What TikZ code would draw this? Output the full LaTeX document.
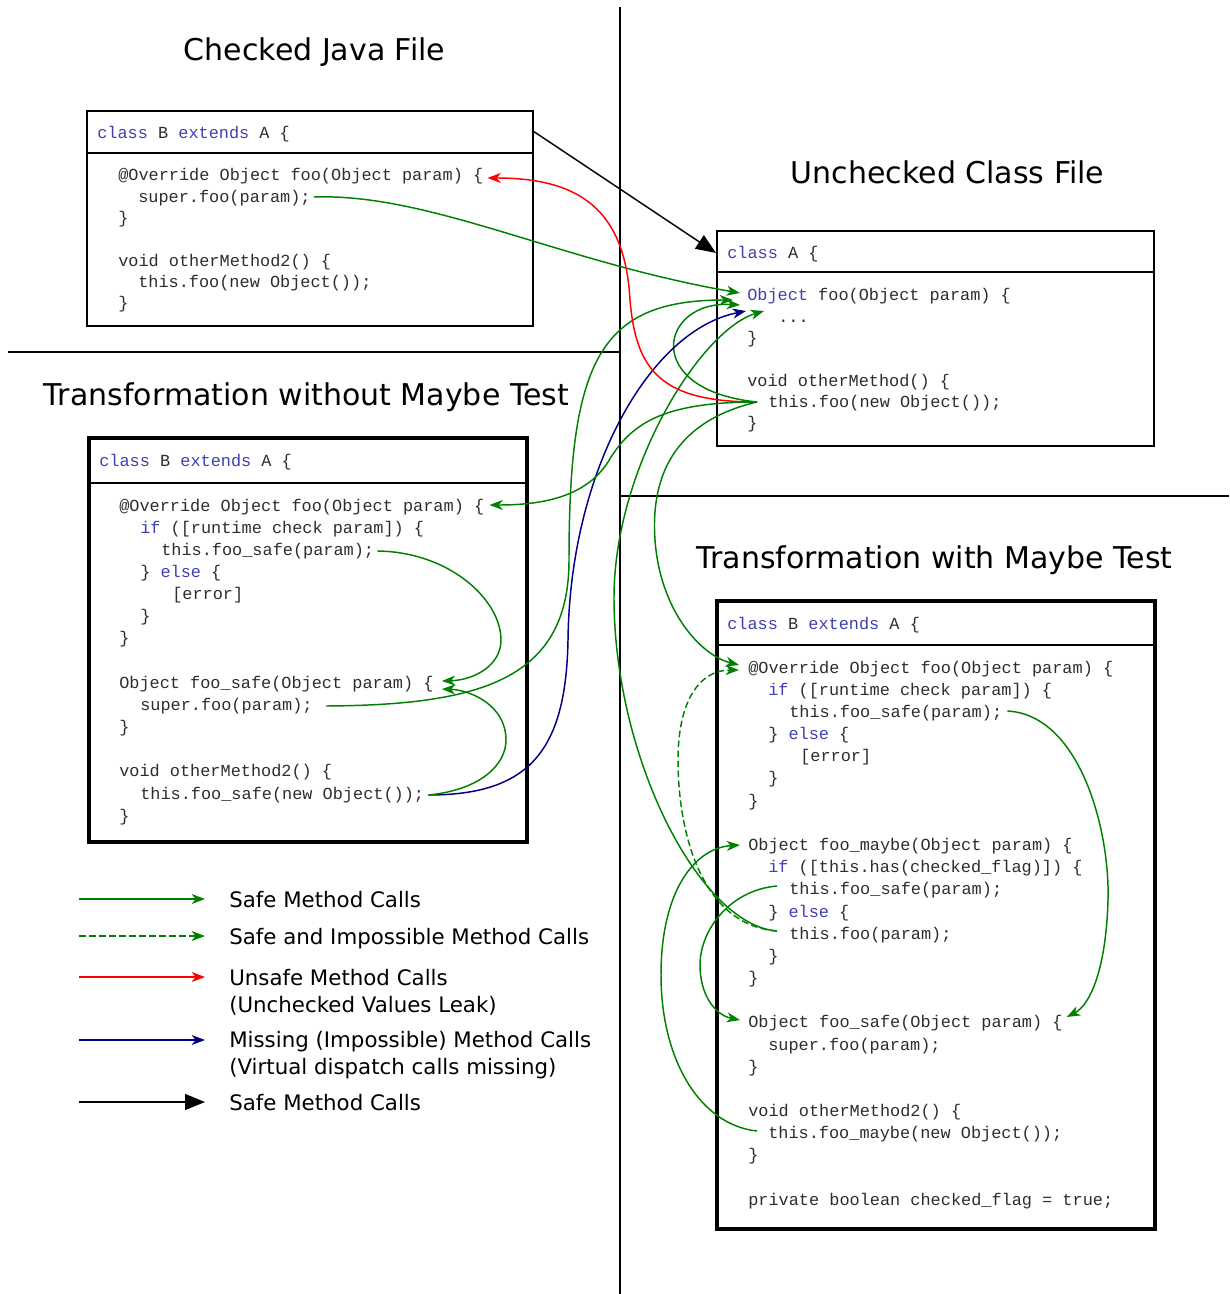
\documentclass[tikz,border=0pt]{standalone}
\usepackage{fontspec}
\setmainfont{DejaVu Sans}
\newfontfamily\codefamily{Liberation Mono}
\usetikzlibrary{arrows.meta,calc}
\definecolor{safegreen}{RGB}{0,128,0}
\definecolor{unsafered}{RGB}{255,0,0}
\definecolor{missblue}{RGB}{0,0,128}
\definecolor{kwblue}{RGB}{64,64,176}
\definecolor{codegray}{RGB}{45,45,45}
\newcommand\kw[1]{\textcolor{kwblue}{#1}}
\newcommand\codesize{\codefamily\fontsize{12.67}{15}\selectfont}

\tikzset{
  code/.style={anchor=west, inner sep=0pt, text height=10.5pt, text depth=0.3pt,
               font=\codesize, text=codegray},
  title/.style={inner sep=0pt, font=\fontsize{22.5}{27}\selectfont},
  legendtext/.style={anchor=west, inner sep=0pt, align=left,
                     font=\fontsize{16}{20.25}\selectfont},
  legendline/.style={legendtext, text height=11.5pt, text depth=0.5pt},
  thinbox/.style={line width=1.5pt},
  thickbox/.style={line width=2.3pt},
  sepline/.style={line width=1.1pt},
  divider/.style={line width=1.5pt},
  calltip/.tip={Stealth[length=10pt,width=7.5pt,inset=3pt]},
  safecall/.style={draw=safegreen, line width=1.1pt, -calltip},
  maybecall/.style={safecall, dash pattern=on 5pt off 2.5pt},
  unsafecall/.style={draw=unsafered, line width=1.1pt, -calltip},
  misscall/.style={draw=missblue, line width=1.1pt, -calltip},
  extcall/.style={draw=black, line width=1.1pt, -{Triangle[length=15pt,width=12pt]}},
}

\begin{document}
\begin{tikzpicture}[x=0.75pt,y=-0.75pt]
\useasboundingbox (0,0) rectangle (1229,1294);

% section dividers
\draw[divider] (620,7) -- (620,1294);
\draw[sepline] (8,352) -- (620,352);
\draw[sepline] (620,496) -- (1229,496);

% section titles
\node[title] (t1) at (314.5,52) {Checked Java File};
\node[title] (t2) at (947.5,172) {Unchecked Class File};
\node[title] (t3) at (306.5,397) {Transformation without Maybe Test};
\node[title] (t4) at (934.5,560) {Transformation with Maybe Test};

% class frames
\draw[thinbox] (87,111) rectangle (533,326);
\draw[sepline] (87,153) -- (533,153);
\draw[thinbox] (717,231) rectangle (1154,446);
\draw[sepline] (717,272) -- (1154,272);
\draw[thickbox] (89,438) rectangle (527,842);
\draw[sepline] (89,483) -- (527,483);
\draw[thickbox] (717,601) rectangle (1155,1229);
\draw[sepline] (717,645) -- (1155,645);

% checked java file
\node[code] (b1head) at (97,132) {\kw{class} B \kw{extends} A \{};
\node[code] (b1foo) at (118,174) {@Override Object foo(Object param) \{};
\node[code] (b1sup) at (138,196) {super.foo(param);};
\node[code] (b1e1) at (118,217) {\}};
\node[code] (b1om) at (118,260) {void otherMethod2() \{};
\node[code] (b1call) at (138,281) {this.foo(new Object());};
\node[code] (b1e2) at (118,302) {\}};

% unchecked class file
\node[code] (b2head) at (727,252) {\kw{class} A \{};
\node[code] (b2foo) at (747,294) {\kw{Object} foo(Object param) \{};
\node[code] (b2body) at (778,316) {...};
\node[code] (b2e1) at (747,337) {\}};
\node[code] (b2om) at (747,380) {void otherMethod() \{};
\node[code] (b2call) at (768,401) {this.foo(new Object());};
\node[code] (b2e2) at (747,422) {\}};

% transformation without maybe test
\node[code] (b3head) at (99,460) {\kw{class} B \kw{extends} A \{};
\node[code] (b3foo) at (119,505) {@Override Object foo(Object param) \{};
\node[code] (b3if) at (140,527) {\kw{if} ([runtime check param]) \{};
\node[code] (b3safe) at (161,549) {this.foo\_safe(param);};
\node[code] (b3else) at (140,571) {\} \kw{else} \{};
\node[code] (b3err) at (172,593) {[error]};
\node[code] (b3e1) at (140,615) {\}};
\node[code] (b3e2) at (119,637) {\}};
\node[code] (b3fs) at (119,682) {Object foo\_safe(Object param) \{};
\node[code] (b3sup) at (140,704) {super.foo(param);};
\node[code] (b3e3) at (119,726) {\}};
\node[code] (b3om) at (119,770) {void otherMethod2() \{};
\node[code] (b3call) at (140,793) {this.foo\_safe(new Object());};
\node[code] (b3e4) at (119,815) {\}};

% transformation with maybe test
\node[code] (b4head) at (727,623) {\kw{class} B \kw{extends} A \{};
\node[code] (b4foo) at (748,667) {@Override Object foo(Object param) \{};
\node[code] (b4if) at (768,689) {\kw{if} ([runtime check param]) \{};
\node[code] (b4safe) at (789,711) {this.foo\_safe(param);};
\node[code] (b4else) at (768,733) {\} \kw{else} \{};
\node[code] (b4err) at (800,755) {[error]};
\node[code] (b4e1) at (768,777) {\}};
\node[code] (b4e2) at (748,800) {\}};
\node[code] (b4fm) at (748,844) {Object foo\_maybe(Object param) \{};
\node[code] (b4if2) at (768,866) {\kw{if} ([this.has(checked\_flag)]) \{};
\node[code] (b4safe2) at (789,888) {this.foo\_safe(param);};
\node[code] (b4else2) at (768,911) {\} \kw{else} \{};
\node[code] (b4plain) at (789,933) {this.foo(param);};
\node[code] (b4e3) at (768,955) {\}};
\node[code] (b4e4) at (748,977) {\}};
\node[code] (b4fs) at (748,1021) {Object foo\_safe(Object param) \{};
\node[code] (b4sup) at (768,1044) {super.foo(param);};
\node[code] (b4e5) at (748,1066) {\}};
\node[code] (b4om) at (748,1110) {void otherMethod2() \{};
\node[code] (b4call) at (768,1132) {this.foo\_maybe(new Object());};
\node[code] (b4e6) at (748,1154) {\}};
\node[code] (b4flag) at (748,1199) {private boolean checked\_flag = true;};

% connector end points
\coordinate (b1corner) at (533,131);
\coordinate (b2corner) at (716,253);
\coordinate (b1supR) at ($(b1sup.east)+(3,1)$);
\coordinate (b1fooR) at ($(b1foo.east)+(4,4)$);
\coordinate (b2callL) at ($(b2call.west)+(-11,1)$);
\coordinate (b2fooA) at ($(b2foo.west)+(-7,-1)$);
\coordinate (b2fooB) at ($(b2foo.west)+(-14,6)$);
\coordinate (b2fooC) at ($(b2foo.west)+(-7,11)$);
\coordinate (b2fooD) at ($(b2foo.west)+(-1,17)$);
\coordinate (b2fooE) at ($(b2foo.west)+(17,17)$);
\coordinate (b3fooR) at ($(b3foo.east)+(5,0)$);
\coordinate (b3fsA) at ($(b3fs.east)+(8,-1)$);
\coordinate (b3fsB) at ($(b3fs.east)+(8,7)$);
\coordinate (b3safeR) at ($(b3safe.east)+(3,2)$);
\coordinate (b3supR) at ($(b3sup.east)+(13,2)$);
\coordinate (b3callR) at ($(b3call.east)+(4,2)$);
\coordinate (b4fooA) at ($(b4foo.west)+(-9,-2)$);
\coordinate (b4fooB) at ($(b4foo.west)+(-9,3)$);
\coordinate (b4safeR) at ($(b4safe.east)+(5,0)$);
\coordinate (b4fsR) at ($(b4fs.east)+(4,-4)$);
\coordinate (b4fsL) at ($(b4fs.west)+(-8,-1)$);
\coordinate (b4safe2L) at ($(b4safe2.west)+(-12,-2)$);
\coordinate (b4plainL) at ($(b4plain.west)+(-12,-2)$);
\coordinate (b4callL) at ($(b4call.west)+(-11,-1)$);
\coordinate (b4fmL) at ($(b4fm.west)+(-8,1)$);

% class B extends A
\draw[extcall] (b1corner) -- (b2corner);

% calls into the unchecked class
\draw[safecall] (b1supR) .. controls (430,193) and (560,262) .. (b2fooA);
\draw[safecall] (b3supR) .. controls (480,705) and (569,680) .. (569,560)
                 .. controls (569,360) and (600,300) .. (b2fooB);
\draw[safecall] (b2callL) .. controls (640,390) and (660,300) .. (b2fooC);
\draw[misscall] (b3callR) .. controls (530,795) and (566,750) .. (568,640)
                 .. controls (570,470) and (650,330) .. (b2fooD);
\draw[safecall] (b4plainL) .. controls (700,925) and (615,760) .. (614,600)
                 .. controls (613,470) and (700,330) .. (b2fooE);

% calls out of the unchecked class
\draw[unsafecall] (b2callL) .. controls (660,402) and (636,370) .. (630,300)
                 .. controls (625,210) and (580,178) .. (b1fooR);
\draw[safecall] (b2callL) .. controls (660,402) and (630,425) .. (608,462)
                 .. controls (585,498) and (540,505) .. (b3fooR);
\draw[safecall] (b2callL) .. controls (680,420) and (650,470) .. (655,540)
                 .. controls (660,610) and (700,655) .. (b4fooA);

% calls inside the transformed classes
\draw[safecall] (b3safeR) .. controls (450,552) and (501,600) .. (501,640)
                 .. controls (501,665) and (475,680) .. (b3fsA);
\draw[safecall] (b3callR) .. controls (480,790) and (506,765) .. (506,740)
                 .. controls (506,705) and (470,690) .. (b3fsB);
\draw[maybecall] (b4plainL) .. controls (700,925) and (678,830) .. (678,760)
                 .. controls (678,700) and (700,670) .. (b4fooB);
\draw[safecall] (b4safeR) .. controls (1080,715) and (1110,830) .. (1108,900)
                 .. controls (1106,970) and (1090,1005) .. (b4fsR);
\draw[safecall] (b4safe2L) .. controls (730,890) and (700,930) .. (700,965)
                 .. controls (700,995) and (715,1015) .. (b4fsL);
\draw[safecall] (b4callL) .. controls (700,1125) and (661,1060) .. (661,975)
                 .. controls (661,890) and (695,848) .. (b4fmL);

% legend
\coordinate (l1a) at (79,899);  \coordinate (l1b) at (205,899);
\coordinate (l2a) at (79,936);  \coordinate (l2b) at (205,936);
\coordinate (l3a) at (79,977);  \coordinate (l3b) at (205,977);
\coordinate (l4a) at (79,1040); \coordinate (l4b) at (205,1040);
\coordinate (l5a) at (79,1102); \coordinate (l5b) at (205,1102);
\draw[safecall] (l1a) -- (l1b);
\draw[maybecall] (l2a) -- (l2b);
\draw[unsafecall] (l3a) -- (l3b);
\draw[misscall] (l4a) -- (l4b);
\draw[extcall] (l5a) -- (l5b);
\node[legendline] (lt1) at (229,900) {Safe Method Calls};
\node[legendline] (lt2) at (229,937) {Safe and Impossible Method Calls};
\node[legendtext] (lt3) at (229,992) {Unsafe Method Calls\\(Unchecked Values Leak)};
\node[legendtext] (lt4) at (229,1055) {Missing (Impossible) Method Calls\\(Virtual dispatch calls missing)};
\node[legendline] (lt5) at (229,1103) {Safe Method Calls};
\end{tikzpicture}
\end{document}
